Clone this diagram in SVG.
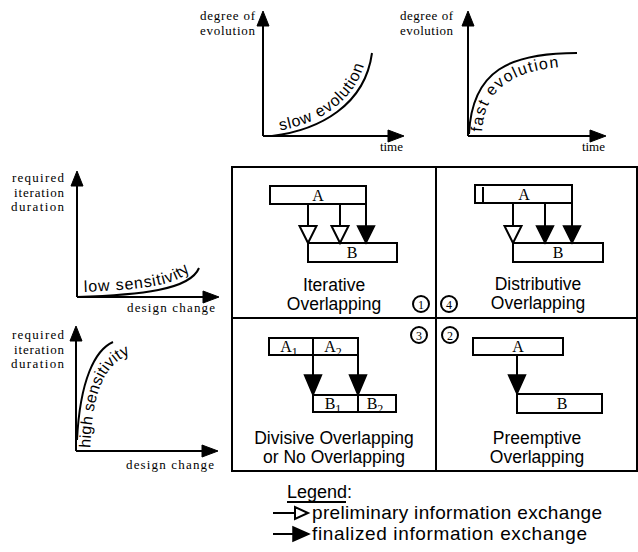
<svg xmlns="http://www.w3.org/2000/svg" width="638" height="552" viewBox="0 0 638 552">
<style>
.ln{stroke:#000;stroke-width:2;fill:none}
.bx{stroke:#000;stroke-width:2;fill:#fff}
.hd{fill:#000;stroke:#000;stroke-width:1}
.op{fill:#fff;stroke:#000;stroke-width:2;stroke-linejoin:miter}
.fl{fill:#000;stroke:#000;stroke-width:1.5}
.ser{font-family:"Liberation Serif","DejaVu Serif",serif;fill:#000}
.san{font-family:"Liberation Sans","DejaVu Sans",sans-serif;fill:#000}
.ax{font-size:13px}
.q{font-size:17.5px;text-anchor:middle}
.bl{font-size:16px;text-anchor:middle}
.cn{font-size:12px;text-anchor:middle}
.cv{font-size:16px}
.lg{font-size:19px}
</style>
<defs>
<path id="pSlow" d="M276,131 C318,125 360,101 367,52"/>
<path id="pFast" d="M482,134 C484,84 518,68 578,66"/>
<path id="pLow" d="M81,292 C140,290 186,286 194,264"/>
<path id="pHigh" d="M90,452 C92,392 104,366 128,355"/>
</defs>

<g id="graph-slow">
<line class="ln" x1="263" y1="136" x2="263" y2="24"/>
<polygon class="hd" points="257,26 269,26 263,11"/>
<line class="ln" x1="263" y1="136" x2="390" y2="136"/>
<polygon class="hd" points="388,130 388,142 404,136"/>
<path class="ln" d="M272,136 C320,130 365,105 372,53"/>
<text class="ser ax" x="255" y="20" text-anchor="end" textLength="55">degree of</text>
<text class="ser ax" x="255" y="35" text-anchor="end" textLength="55">evolution</text>
<text class="ser ax" x="403" y="151" text-anchor="end">time</text>
<text class="san cv"><textPath href="#pSlow" startOffset="4" textLength="112">slow evolution</textPath></text>
</g>

<g id="graph-fast">
<line class="ln" x1="468" y1="136" x2="468" y2="24"/>
<polygon class="hd" points="462,26 474,26 468,11"/>
<line class="ln" x1="468" y1="136" x2="592" y2="136"/>
<polygon class="hd" points="590,130 590,142 606,136"/>
<path class="ln" d="M469,134 C472,70 510,53 577,53"/>
<text class="ser ax" x="453" y="20" text-anchor="end" textLength="53">degree of</text>
<text class="ser ax" x="453" y="35" text-anchor="end" textLength="53">evolution</text>
<text class="ser ax" x="605" y="151" text-anchor="end">time</text>
<text class="san cv"><textPath href="#pFast" startOffset="2" textLength="112">fast evolution</textPath></text>
</g>

<g id="graph-low">
<line class="ln" x1="77" y1="297" x2="77" y2="184"/>
<polygon class="hd" points="71,186 83,186 77,171"/>
<line class="ln" x1="77" y1="297" x2="205" y2="297"/>
<polygon class="hd" points="203,291 203,303 219,297"/>
<path class="ln" d="M77,297 C140,295 190,290 199,268"/>
<text class="ser ax" x="64" y="182" text-anchor="end" textLength="52">required</text>
<text class="ser ax" x="64" y="196.5" text-anchor="end" textLength="50">iteration</text>
<text class="ser ax" x="64" y="211" text-anchor="end" textLength="53">duration</text>
<text class="ser ax" x="215" y="312" text-anchor="end" textLength="88">design change</text>
<text class="san cv"><textPath href="#pLow" startOffset="3" textLength="110">low sensitivity</textPath></text>
</g>

<g id="graph-high">
<line class="ln" x1="76" y1="451" x2="76" y2="339"/>
<polygon class="hd" points="70,341 82,341 76,326"/>
<line class="ln" x1="76" y1="451" x2="204" y2="451"/>
<polygon class="hd" points="202,445 202,457 218,451"/>
<path class="ln" d="M77,440 C80,380 95,350 113,342"/>
<text class="ser ax" x="64" y="339" text-anchor="end" textLength="52">required</text>
<text class="ser ax" x="64" y="353.5" text-anchor="end" textLength="50">iteration</text>
<text class="ser ax" x="64" y="368" text-anchor="end" textLength="53">duration</text>
<text class="ser ax" x="214" y="469" text-anchor="end" textLength="88">design change</text>
<text class="san cv"><textPath href="#pHigh" startOffset="4" textLength="108">high sensitivity</textPath></text>
</g>

<g id="grid">
<rect class="ln" x="232" y="167" width="405" height="304"/>
<line class="ln" x1="436" y1="167" x2="436" y2="471"/>
<line class="ln" x1="232" y1="318" x2="637" y2="318"/>
<circle class="ln" cx="421" cy="304" r="8" stroke-width="1.3"/>
<text class="ser cn" x="421" y="308.5">1</text>
<circle class="ln" cx="449" cy="304" r="8" stroke-width="1.3"/>
<text class="ser cn" x="449" y="308.5">4</text>
<circle class="ln" cx="419" cy="335" r="8" stroke-width="1.3"/>
<text class="ser cn" x="419" y="339.5">3</text>
<circle class="ln" cx="450" cy="335" r="8" stroke-width="1.3"/>
<text class="ser cn" x="450" y="339.5">2</text>
</g>

<g id="iterative">
<rect class="bx" x="270" y="186" width="96" height="18"/>
<text class="ser bl" x="318" y="201">A</text>
<rect class="bx" x="308" y="243" width="89" height="19"/>
<text class="ser bl" x="352" y="258">B</text>
<line class="ln" x1="308" y1="204" x2="308" y2="226"/>
<line class="ln" x1="340" y1="204" x2="340" y2="226"/>
<line class="ln" x1="366" y1="204" x2="366" y2="226"/>
<polygon class="op" points="299.5,226 316.5,226 308,243"/>
<polygon class="op" points="331.5,226 348.5,226 340,243"/>
<polygon class="fl" points="357.5,226 374.5,226 366,243"/>
<text class="san q" x="334" y="291">Iterative</text>
<text class="san q" x="334" y="310">Overlapping</text>
</g>

<g id="distributive">
<rect class="bx" x="475" y="185" width="97" height="18"/>
<line class="ln" x1="483" y1="187" x2="483" y2="202" stroke-width="1.3"/>
<text class="ser bl" x="524" y="200">A</text>
<rect class="bx" x="513" y="243" width="90" height="19"/>
<text class="ser bl" x="558" y="258">B</text>
<line class="ln" x1="513" y1="203" x2="513" y2="226"/>
<line class="ln" x1="545" y1="203" x2="545" y2="226"/>
<line class="ln" x1="572" y1="203" x2="572" y2="226"/>
<polygon class="op" points="504.5,226 521.5,226 513,243"/>
<polygon class="fl" points="536.5,226 553.5,226 545,243"/>
<polygon class="fl" points="563.5,226 580.5,226 572,243"/>
<text class="san q" x="538" y="290">Distributive</text>
<text class="san q" x="538" y="309">Overlapping</text>
</g>

<g id="divisive">
<rect class="bx" x="269" y="338" width="89" height="17"/>
<line class="ln" x1="313" y1="338" x2="313" y2="355"/>
<text class="ser bl" x="289" y="352">A<tspan font-size="12" dy="4">1</tspan></text>
<text class="ser bl" x="333" y="352">A<tspan font-size="12" dy="4">2</tspan></text>
<line class="ln" x1="313" y1="355" x2="313" y2="376"/>
<line class="ln" x1="358" y1="355" x2="358" y2="376"/>
<polygon class="fl" points="304.5,375 321.5,375 313,395"/>
<polygon class="fl" points="349.5,375 366.5,375 358,395"/>
<rect class="bx" x="313" y="395" width="83" height="17"/>
<line class="ln" x1="358" y1="395" x2="358" y2="412"/>
<text class="ser bl" x="333" y="409">B<tspan font-size="12" dy="4">1</tspan></text>
<text class="ser bl" x="375" y="409">B<tspan font-size="12" dy="4">2</tspan></text>
<text class="san q" x="334" y="444">Divisive Overlapping</text>
<text class="san q" x="334" y="463">or No Overlapping</text>
</g>

<g id="preemptive">
<rect class="bx" x="473" y="338" width="90" height="17"/>
<text class="ser bl" x="518" y="352">A</text>
<line class="ln" x1="517" y1="355" x2="517" y2="376"/>
<polygon class="fl" points="508.5,375 525.5,375 517,394"/>
<rect class="bx" x="517" y="394" width="85" height="19"/>
<text class="ser bl" x="562" y="409">B</text>
<text class="san q" x="537" y="444">Preemptive</text>
<text class="san q" x="537" y="463">Overlapping</text>
</g>

<g id="legend">
<text class="san" x="287" y="498" font-size="18">Legend:</text>
<line class="ln" x1="287" y1="502" x2="346" y2="502" stroke-width="1.2"/>
<line class="ln" x1="273" y1="513" x2="294" y2="513"/>
<polygon class="op" points="295,507 295,519 308,513"/>
<text class="san lg" x="312" y="519" textLength="290">preliminary information exchange</text>
<line class="ln" x1="273" y1="534" x2="294" y2="534"/>
<polygon class="fl" points="293,527 293,541 309,534"/>
<text class="san lg" x="312" y="540" textLength="275">finalized information exchange</text>
</g>
</svg>
